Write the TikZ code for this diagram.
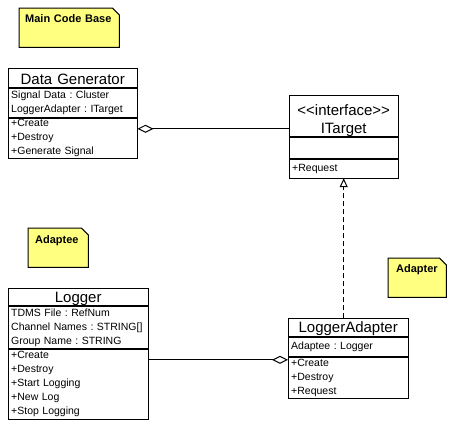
\documentclass[tikz,border=0pt]{standalone}
\usepackage{fontspec}
\setmainfont{Liberation Sans}
\usetikzlibrary{positioning,arrows.meta,backgrounds}
\definecolor{noteyellow}{RGB}{255,255,128}
\frenchspacing

\newcommand{\titlesize}{\fontsize{15}{18}\selectfont}
\newcommand{\partsize}{\fontsize{10.5}{14}\selectfont}
\newcommand{\notesize}{\fontsize{11}{13}\selectfont\bfseries}

\tikzset{
  umltitle/.style={anchor=north west, inner xsep=0pt, inner ysep=0pt, font=\titlesize, align=center, text width=#1, text depth=4pt},
  umlpart/.style={inner xsep=3pt, inner ysep=0pt, font=\partsize, align=left, text width=#1},
  umlbox/.style={line width=1pt},
  divider/.style={line width=2pt},
  umlnote/.style={anchor=north west, inner ysep=0pt, font=\notesize, align=left},
  notefill/.style={fill=noteyellow, draw=black, line width=1pt},
  aggr/.style={draw, line width=1pt, {Diamond[open, length=16pt, width=8pt]}-},
  realize/.style={draw, line width=1pt, dash pattern=on 5pt off 3pt, -{Triangle[open, length=9pt, width=8pt]}}
}

\begin{document}
\begin{tikzpicture}[x=1pt, y=-1pt]
    \useasboundingbox (0,0) rectangle (456,426);

    % notes
    \node[umlnote, inner xsep=6pt, text width=88pt, text height=14pt, text depth=25pt] (noteMain) at (19,8) {Main Code Base};
    \node[umlnote, inner xsep=7pt, text width=46pt, text height=15pt, text depth=24pt] (noteAdaptee) at (28,228) {Adaptee};
    \node[umlnote, inner xsep=8pt, text width=42pt, text height=14pt, text depth=25pt] (noteAdapter) at (388,258) {Adapter};

    % Data Generator
    \node[umltitle=129pt, text height=16pt] (dgTitle) at (8,68) {Data Generator};
    \node[umlpart=123pt, minimum height=29pt, below=0pt of dgTitle] (dgAttr) {Signal Data : Cluster\\LoggerAdapter : ITarget};
    \node[umlpart=123pt, minimum height=40pt, below=0pt of dgAttr] (dgOps) {+Create\\+Destroy\\+Generate Signal};
    \draw[umlbox] (dgTitle.north west) rectangle (dgOps.south east);
    \draw[divider] (dgAttr.north west) -- (dgAttr.north east);
    \draw[divider] (dgOps.north west) -- (dgOps.north east);

    % ITarget
    \node[umltitle=109pt, text height=20pt, text depth=22pt] (itTitle) at (289,95) {<\kern0pt<interface>\kern0pt>\\ITarget};
    \node[umlpart=103pt, minimum height=21pt, below=0pt of itTitle] (itAttr) {};
    \node[umlpart=103pt, minimum height=19pt, below=0pt of itAttr] (itOps) {+Request};
    \draw[umlbox] (itTitle.north west) rectangle (itOps.south east);
    \draw[divider] (itAttr.north west) -- (itAttr.north east);
    \draw[divider] (itOps.north west) -- (itOps.north east);

    % Logger
    \node[umltitle=140pt, text height=14pt] (lgTitle) at (8,288) {Logger};
    \node[umlpart=134pt, minimum height=42pt, below=0pt of lgTitle] (lgAttr) {TDMS File : RefNum\\Channel Names : STRING[]\\Group Name : STRING};
    \node[umlpart=134pt, minimum height=70pt, below=0pt of lgAttr] (lgOps) {+Create\\+Destroy\\+Start Logging\\+New Log\\+Stop Logging};
    \draw[umlbox] (lgTitle.north west) rectangle (lgOps.south east);
    \draw[divider] (lgAttr.north west) -- (lgAttr.north east);
    \draw[divider] (lgOps.north west) -- (lgOps.north east);

    % LoggerAdapter
    \node[umltitle=120pt, text height=14pt, text depth=5pt] (laTitle) at (288,318) {LoggerAdapter};
    \node[umlpart=114pt, minimum height=19pt, below=0pt of laTitle] (laAttr) {Adaptee : Logger};
    \node[umlpart=114pt, minimum height=41pt, below=0pt of laAttr] (laOps) {+Create\\+Destroy\\+Request};
    \draw[umlbox] (laTitle.north west) rectangle (laOps.south east);
    \draw[divider] (laAttr.north west) -- (laAttr.north east);
    \draw[divider] (laOps.north west) -- (laOps.north east);

    % connectors
    \coordinate (dgLink) at ([yshift=-11pt]dgOps.north east);
    \draw[aggr] (dgLink) -- (dgLink -| itTitle.west);
    \coordinate (laLink) at ([yshift=-3pt]laOps.north west);
    \draw[aggr] (laLink) -- (laLink -| lgOps.east);
    \draw[realize] (laTitle.north -| itOps.south) -- (itOps.south);

    \begin{scope}[on background layer]
      \fill[white] (0,0) rectangle (456,426);
      \draw[notefill] (noteMain.north west) -- ([xshift=-7pt]noteMain.north east) -- ([yshift=-7pt]noteMain.north east) -- (noteMain.south east) -- (noteMain.south west) -- cycle;
      \draw[notefill] (noteAdaptee.north west) -- ([xshift=-7pt]noteAdaptee.north east) -- ([yshift=-7pt]noteAdaptee.north east) -- (noteAdaptee.south east) -- (noteAdaptee.south west) -- cycle;
      \draw[notefill] (noteAdapter.north west) -- ([xshift=-7pt]noteAdapter.north east) -- ([yshift=-7pt]noteAdapter.north east) -- (noteAdapter.south east) -- (noteAdapter.south west) -- cycle;
    \end{scope}
\end{tikzpicture}
\end{document}
